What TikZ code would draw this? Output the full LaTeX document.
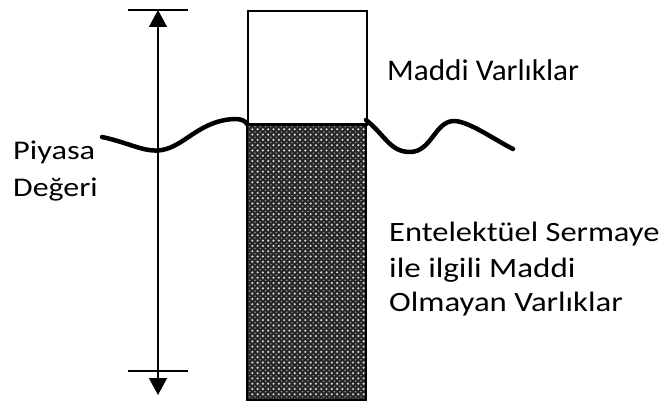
\documentclass[tikz,border=0pt]{standalone}
\usepackage{fontspec}
\setmainfont{Carlito}
\usetikzlibrary{arrows.meta}
\begin{document}
\begin{tikzpicture}[x=1pt,y=-1pt,
  lbl/.style={anchor=base west,inner sep=0pt,font=\fontsize{30}{35}\selectfont},
  lblb/.style={anchor=base west,inner sep=0pt,font=\fontsize{28}{35}\selectfont},
  lblc/.style={anchor=base west,inner sep=0pt,font=\fontsize{27}{35}\selectfont},
  wave/.style={line width=4.5pt,line cap=round,line join=round},
  bar/.style={line width=1.8pt},
  arr/.style={line width=1.5pt,{Triangle[width=18pt,length=17pt]}-{Triangle[width=18pt,length=17pt]}}]
\useasboundingbox (0,0) rectangle (661,403);
% hatched column
\begin{scope}
\clip (247,124) rectangle (366,400);
\fill[black!85] (247,124) rectangle (366,400);
\foreach \i in {0,...,23}{
  \foreach \j in {0,...,52}{
    \fill[white!85!black] (247+\i*5.3,124+\j*5.3) circle[radius=1.2pt];
    \fill[black!45] (249.65+\i*5.3,126.65+\j*5.3) circle[radius=0.9pt];
  }
}
\end{scope}
\draw[line width=2pt] (247,124) rectangle (366,400);
\node[draw,line width=2pt,minimum width=119pt,minimum height=114pt,inner sep=0pt,anchor=north west] (mat) at (247,10) {};
\coordinate (colL) at (247,124);
\coordinate (colR) at (366,120);
% waves
\coordinate (wl) at (102,137);
\coordinate (wr) at (513,149);
\draw[wave] (wl) .. controls (130,143) and (145,153) .. (162,150)
  .. controls (185,146) and (200,120) .. (235,119)
  .. controls (242,119) and (245,121) .. (colL);
\draw[wave] (colR) .. controls (385,135) and (390,152) .. (410,152)
  .. controls (432,152) and (435,120) .. (455,121)
  .. controls (470,122) and (495,140) .. (wr);
% arrow
\coordinate (tbL) at (128,10);
\coordinate (tbR) at (188,10);
\coordinate (bbL) at (128,371);
\coordinate (bbR) at (188,371);
\coordinate (atop) at (158,10);
\coordinate (abot) at (158,395);
\draw[bar] (tbL) -- (tbR);
\draw[bar] (bbL) -- (bbR);
\draw[arr] (abot) -- (atop);
% labels
\node[lbl] (maddi) at (387,81) {\scalebox{1.04}[1]{Maddi Varlıklar}};
\node[lblc] (piy1) at (13,160) {\scalebox{1.2}[1]{Piyasa}};
\node[lblc] (piy2) at (13,197) {\scalebox{1.18}[1]{Değeri}};
\node[lblb] (ent1) at (389,242) {\scalebox{1.16}[1]{Entelektüel Sermaye}};
\node[lblb] (ent2) at (389,278) {\scalebox{1.18}[1]{ile ilgili Maddi}};
\node[lblb] (ent3) at (389,312) {\scalebox{1.17}[1]{Olmayan Varlıklar}};
\end{tikzpicture}
\end{document}
